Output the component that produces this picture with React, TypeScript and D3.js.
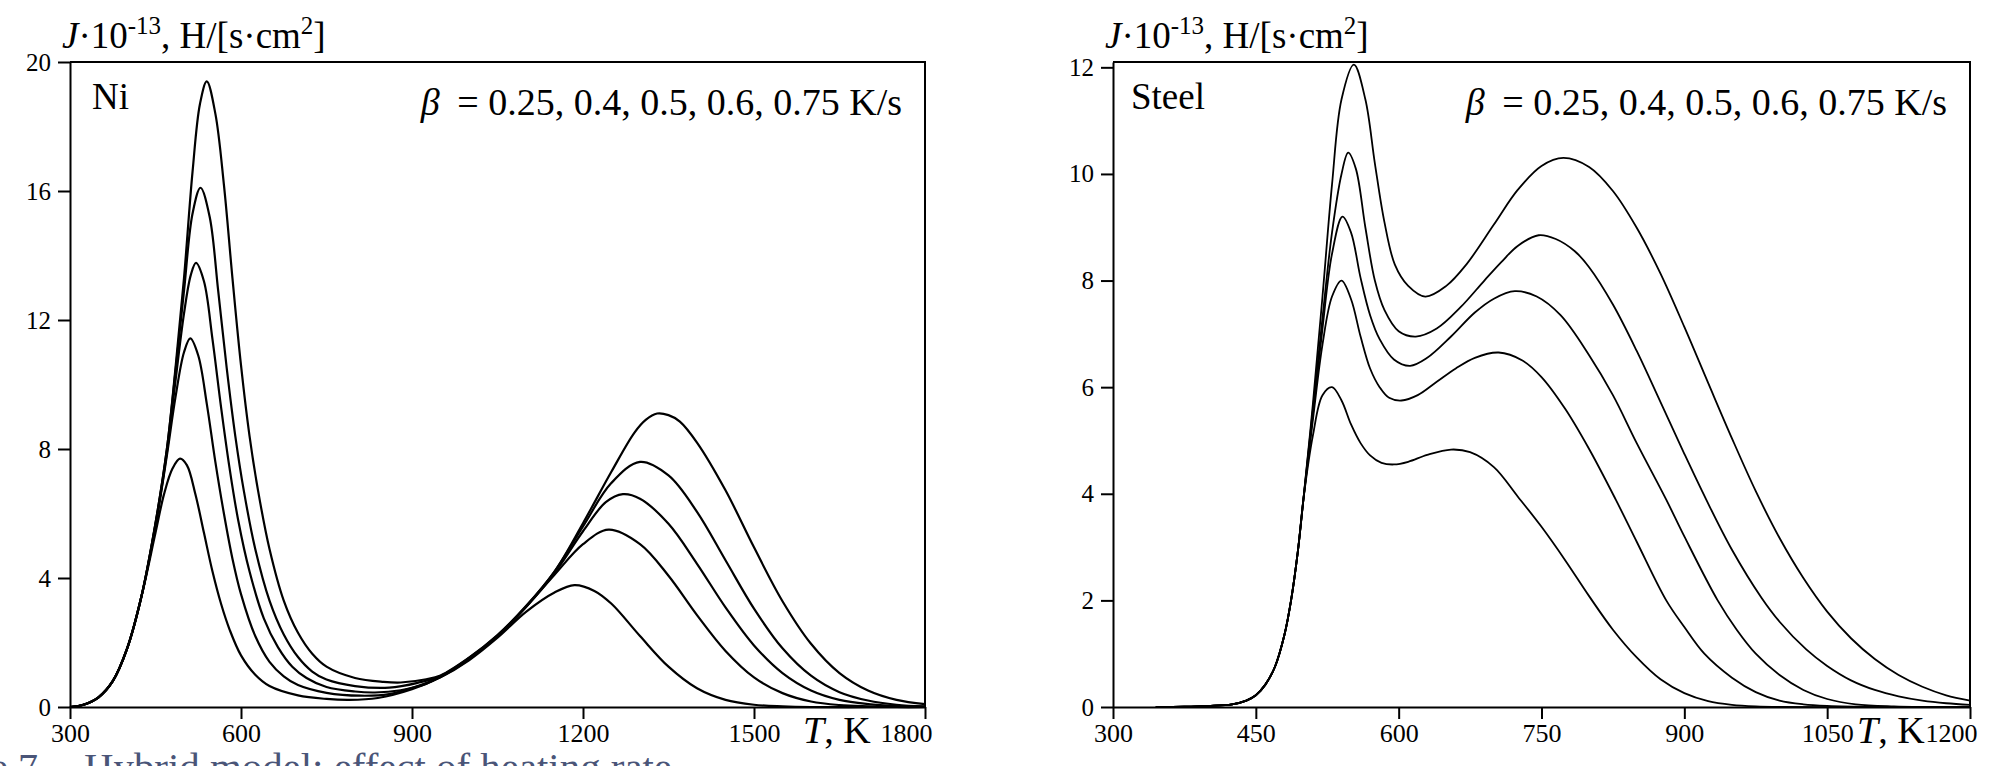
import React, { useEffect, useRef } from 'react';
import * as d3 from 'd3';

type Pt = [number, number];

// Ni, hydrogen flux J*1e-13 vs T (K), heating rates 0.25 .. 0.75 K/s
const niB025: Pt[] = [[300,0],[325,0.08],[350,0.3],[375,0.8],[400,1.8],[425,3.4],[450,5.4],[465,6.6],[480,7.4],[493,7.7],[505,7.5],[520,6.6],[535,5.4],[550,4.2],[565,3.2],[580,2.4],[600,1.6],[625,1.0],[650,0.65],[700,0.36],[750,0.25],[790,0.22],[840,0.28],[900,0.55],[950,0.92],[1000,1.45],[1050,2.15],[1100,2.95],[1150,3.55],[1185,3.78],[1220,3.6],[1250,3.2],[1300,2.2],[1350,1.25],[1400,0.58],[1450,0.22],[1500,0.07],[1550,0.02],[1600,0],[1700,0],[1800,0]];
const niB04: Pt[] = [[300,0],[325,0.08],[350,0.3],[375,0.8],[400,1.8],[425,3.4],[450,5.6],[470,7.8],[485,9.6],[500,11.0],[511,11.43],[525,10.9],[540,9.4],[555,7.6],[570,6.0],[585,4.6],[600,3.5],[625,2.2],[650,1.4],[675,0.95],[700,0.68],[750,0.44],[810,0.35],[860,0.4],[910,0.65],[950,0.93],[1000,1.48],[1050,2.2],[1100,3.1],[1150,4.1],[1200,5.05],[1245,5.5],[1300,5.05],[1350,4.07],[1400,2.85],[1450,1.74],[1500,0.92],[1550,0.43],[1600,0.17],[1650,0.06],[1700,0.02],[1750,0],[1800,0]];
const niB05: Pt[] = [[300,0],[325,0.08],[350,0.3],[375,0.8],[400,1.8],[425,3.4],[450,5.65],[470,7.9],[485,10.1],[500,12.2],[512,13.4],[521,13.77],[535,13.2],[550,11.4],[565,9.3],[580,7.4],[595,5.8],[615,4.2],[640,2.75],[665,1.85],[690,1.25],[715,0.9],[750,0.62],[800,0.48],[835,0.45],[880,0.52],[925,0.72],[950,0.94],[1000,1.5],[1050,2.2],[1100,3.1],[1150,4.15],[1200,5.45],[1240,6.35],[1270,6.6],[1300,6.46],[1350,5.68],[1400,4.44],[1450,3.09],[1500,1.91],[1550,1.05],[1600,0.51],[1650,0.22],[1700,0.09],[1750,0.03],[1800,0.01]];
const niB06: Pt[] = [[300,0],[325,0.08],[350,0.3],[375,0.8],[400,1.8],[425,3.4],[450,5.7],[470,8.0],[485,10.4],[500,12.9],[515,15.3],[529,16.1],[545,15.2],[560,12.9],[575,10.5],[590,8.4],[605,6.7],[625,4.9],[650,3.3],[675,2.25],[700,1.55],[725,1.1],[750,0.85],[800,0.65],[860,0.6],[910,0.75],[950,0.96],[1000,1.52],[1050,2.22],[1100,3.12],[1150,4.2],[1200,5.6],[1250,6.95],[1300,7.6],[1350,7.18],[1400,6.05],[1450,4.55],[1500,3.05],[1550,1.82],[1600,0.97],[1650,0.46],[1700,0.2],[1750,0.07],[1800,0.02]];
const niB075: Pt[] = [[300,0],[325,0.08],[350,0.3],[375,0.8],[400,1.8],[425,3.4],[450,5.7],[470,8.0],[485,10.5],[500,13.3],[515,16.6],[528,18.7],[540,19.4],[555,18.4],[570,16.2],[585,13.3],[600,10.6],[615,8.4],[630,6.7],[650,4.9],[675,3.3],[700,2.3],[725,1.65],[750,1.25],[800,0.9],[850,0.78],[880,0.76],[925,0.86],[950,0.98],[1000,1.53],[1050,2.23],[1100,3.13],[1150,4.2],[1200,5.7],[1250,7.3],[1290,8.5],[1310,8.9],[1330,9.1],[1350,9.05],[1370,8.85],[1400,8.2],[1450,6.72],[1500,4.95],[1550,3.28],[1600,1.96],[1650,1.05],[1700,0.51],[1750,0.22],[1800,0.09]];

// Steel: shared low-temperature rise, then one branch per heating rate
const steelRise: Pt[] = [[345,0],[375,0.005],[400,0.02],[425,0.05],[440,0.12],[450,0.22],[460,0.42],[470,0.75],[480,1.35],[487,2.0],[494,2.9],[500,3.9]];
const steelB025: Pt[] = [...steelRise, [510,5.1],[520,5.85],[530,6.0],[540,5.75],[550,5.3],[560,4.95],[570,4.72],[582,4.58],[595,4.55],[610,4.6],[630,4.73],[655,4.83],[675,4.78],[700,4.5],[725,3.95],[750,3.38],[775,2.75],[800,2.08],[825,1.45],[850,0.93],[875,0.52],[900,0.26],[925,0.11],[950,0.04],[975,0.01],[1000,0],[1100,0],[1200,0]];
const steelB04: Pt[] = [...steelRise, [510,5.4],[520,6.8],[530,7.7],[540,8.0],[550,7.65],[560,6.95],[570,6.35],[580,6.0],[590,5.8],[603,5.75],[620,5.85],[640,6.1],[660,6.35],[680,6.55],[705,6.65],[730,6.5],[750,6.19],[775,5.59],[800,4.84],[828,3.89],[850,3.1],[881,2.0],[900,1.5],[921,1.0],[950,0.55],[975,0.28],[1000,0.12],[1025,0.05],[1050,0.02],[1100,0],[1200,0]];
const steelB05: Pt[] = [...steelRise, [510,5.5],[520,7.1],[530,8.5],[541,9.2],[550,8.9],[560,8.05],[570,7.35],[580,6.9],[595,6.52],[612,6.4],[630,6.55],[655,6.95],[680,7.4],[700,7.66],[722,7.8],[745,7.7],[770,7.35],[800,6.6],[825,5.85],[850,4.95],[881,3.89],[900,3.2],[935,2.0],[955,1.45],[975,1.0],[1000,0.6],[1025,0.32],[1050,0.15],[1080,0.05],[1120,0.01],[1150,0],[1200,0]];
const steelB06: Pt[] = [...steelRise, [510,5.6],[520,7.3],[530,8.9],[540,10.0],[547,10.4],[555,10.1],[565,9.0],[575,8.0],[585,7.45],[600,7.05],[618,6.95],[640,7.1],[665,7.5],[690,8.0],[708,8.35],[725,8.65],[747,8.85],[765,8.78],[785,8.55],[800,8.25],[825,7.55],[850,6.68],[875,5.72],[900,4.75],[923,3.89],[950,2.95],[981,2.05],[1000,1.6],[1028,1.08],[1050,0.77],[1075,0.5],[1100,0.32],[1125,0.2],[1150,0.12],[1175,0.07],[1200,0.04]];
const steelB075: Pt[] = [...steelRise, [510,5.7],[520,7.7],[530,9.8],[540,11.4],[553,12.05],[565,11.4],[575,10.2],[585,9.1],[596,8.3],[610,7.9],[628,7.7],[650,7.9],[671,8.3],[700,9.05],[725,9.7],[750,10.15],[773,10.3],[800,10.13],[825,9.68],[850,8.99],[875,8.13],[900,7.13],[925,6.08],[950,5.04],[975,4.05],[1000,3.17],[1025,2.42],[1050,1.79],[1075,1.29],[1100,0.9],[1125,0.6],[1150,0.38],[1175,0.22],[1200,0.12]];

const betaValues = ['0.25', '0.4', '0.5', '0.6', '0.75'];
const niXTicks = [300, 600, 900, 1200, 1500, 1800];
const niYTicks = [0, 4, 8, 12, 16, 20];
const steelXTicks = [300, 450, 600, 750, 900, 1050, 1200];
const steelYTicks = [0, 2, 4, 6, 8, 10, 12];

const FONT = "'Liberation Serif', 'Times New Roman', serif";

const panels = [
  { name: 'Ni', series: [niB025, niB04, niB05, niB06, niB075], xDomain: [300, 1800], yDomain: [0, 20],
    xTicks: niXTicks, yTicks: niYTicks, left: 70, right: 925, top: 62, bottom: 707, lw: 2.2, tx: 803, nameX: 92 },
  { name: 'Steel', series: [steelB025, steelB04, steelB05, steelB06, steelB075], xDomain: [300, 1200], yDomain: [0, 12.1],
    xTicks: steelXTicks, yTicks: steelYTicks, left: 1113, right: 1970, top: 62, bottom: 707, lw: 1.8, tx: 1857, nameX: 1131 },
];

const App: React.FC = () => {
  const svgRef = useRef<SVGSVGElement | null>(null);

  useEffect(() => {
    if (!svgRef.current) return;
    const svg = d3.select(svgRef.current);
    svg.selectAll('*').remove();

    panels.forEach(p => {
      const x = d3.scaleLinear().domain(p.xDomain).range([p.left, p.right]);
      const y = d3.scaleLinear().domain(p.yDomain).range([p.bottom, p.top]);
      const g = svg.append('g');

      const line = d3.line<Pt>()
        .x(d => x(d[0]))
        .y(d => y(Math.max(0, d[1])))
        .curve(d3.curveCatmullRom.alpha(0.5));

      g.selectAll('path.curve')
        .data(p.series)
        .join('path')
        .attr('class', 'curve')
        .attr('fill', 'none')
        .attr('stroke', '#000')
        .attr('stroke-width', p.lw)
        .attr('stroke-linejoin', 'round')
        .attr('d', d => line(d));

      // frame: top and right edges
      g.append('path')
        .attr('d', `M${p.left},${p.top}H${p.right}V${p.bottom}`)
        .attr('fill', 'none')
        .attr('stroke', '#000')
        .attr('stroke-width', 2);

      const xAxis = g.append('g')
        .attr('transform', `translate(0,${p.bottom})`)
        .call(d3.axisBottom(x).tickValues(p.xTicks).tickSize(12).tickSizeOuter(0).tickPadding(5).tickFormat(d3.format('d')));
      xAxis.attr('font-family', FONT).attr('font-size', 26);
      xAxis.selectAll('path, line').attr('stroke', '#000').attr('stroke-width', 2);
      xAxis.selectAll('text').attr('fill', '#000');
      xAxis.selectAll<SVGTextElement, number>('.tick text')
        .filter((_, i, n) => i === n.length - 1)
        .attr('text-anchor', 'end')
        .attr('x', 7);

      const yAxis = g.append('g')
        .attr('transform', `translate(${p.left},0)`)
        .call(d3.axisLeft(y).tickValues(p.yTicks).tickSize(12).tickSizeOuter(0).tickPadding(7).tickFormat(d3.format('d')));
      yAxis.attr('font-family', FONT).attr('font-size', 25);
      yAxis.selectAll('path, line').attr('stroke', '#000').attr('stroke-width', 2);
      yAxis.selectAll('text').attr('fill', '#000');

      // y title
      const yt = g.append('text')
        .attr('x', p.left - 8)
        .attr('y', 48)
        .attr('font-family', FONT)
        .attr('font-size', 37);
      yt.append('tspan').attr('font-style', 'italic').text('J');
      yt.append('tspan').text('·10');
      yt.append('tspan').attr('font-size', 25).attr('dy', -14).text('-13');
      yt.append('tspan').attr('dy', 14).text(', H/[s·cm');
      yt.append('tspan').attr('font-size', 25).attr('dy', -14).text('2');
      yt.append('tspan').attr('dy', 14).text(']');

      // x title
      const xt = g.append('text')
        .attr('x', p.tx)
        .attr('y', 743)
        .attr('font-family', FONT)
        .attr('font-size', 38);
      xt.append('tspan').attr('font-style', 'italic').text('T');
      xt.append('tspan').text(', K');

      // material label
      g.append('text')
        .attr('x', p.nameX)
        .attr('y', 109)
        .attr('font-family', FONT)
        .attr('font-size', 37)
        .text(p.name);

      // heating rates
      const bt = g.append('text')
        .attr('x', p.right - 23)
        .attr('y', 115)
        .attr('text-anchor', 'end')
        .attr('font-family', FONT)
        .attr('font-size', 38);
      bt.append('tspan').attr('font-style', 'italic').text('β');
      bt.append('tspan').attr('dx', 8).text(` = ${betaValues.join(', ')} K/s`);
    });

    // caption, cut off by the bottom edge as in the source page
    svg.append('text')
      .attr('x', 68)
      .attr('y', 781)
      .attr('text-anchor', 'end')
      .attr('font-family', FONT)
      .attr('font-size', 40)
      .attr('fill', '#4a5578')
      .text('Figure 7 –');
    svg.append('text')
      .attr('x', 84)
      .attr('y', 781)
      .attr('font-family', FONT)
      .attr('font-size', 40)
      .attr('fill', '#4a5578')
      .attr('textLength', 588)
      .attr('lengthAdjust', 'spacingAndGlyphs')
      .text('Hybrid model: effect of heating rate');
  }, []);

  return (
    <div>
      <style>{'body{margin:0;background:#fff}'}</style>
      <svg ref={svgRef} width={1993} height={766} style={{ display: 'block' }}></svg>
    </div>
  );
};

export default App;
